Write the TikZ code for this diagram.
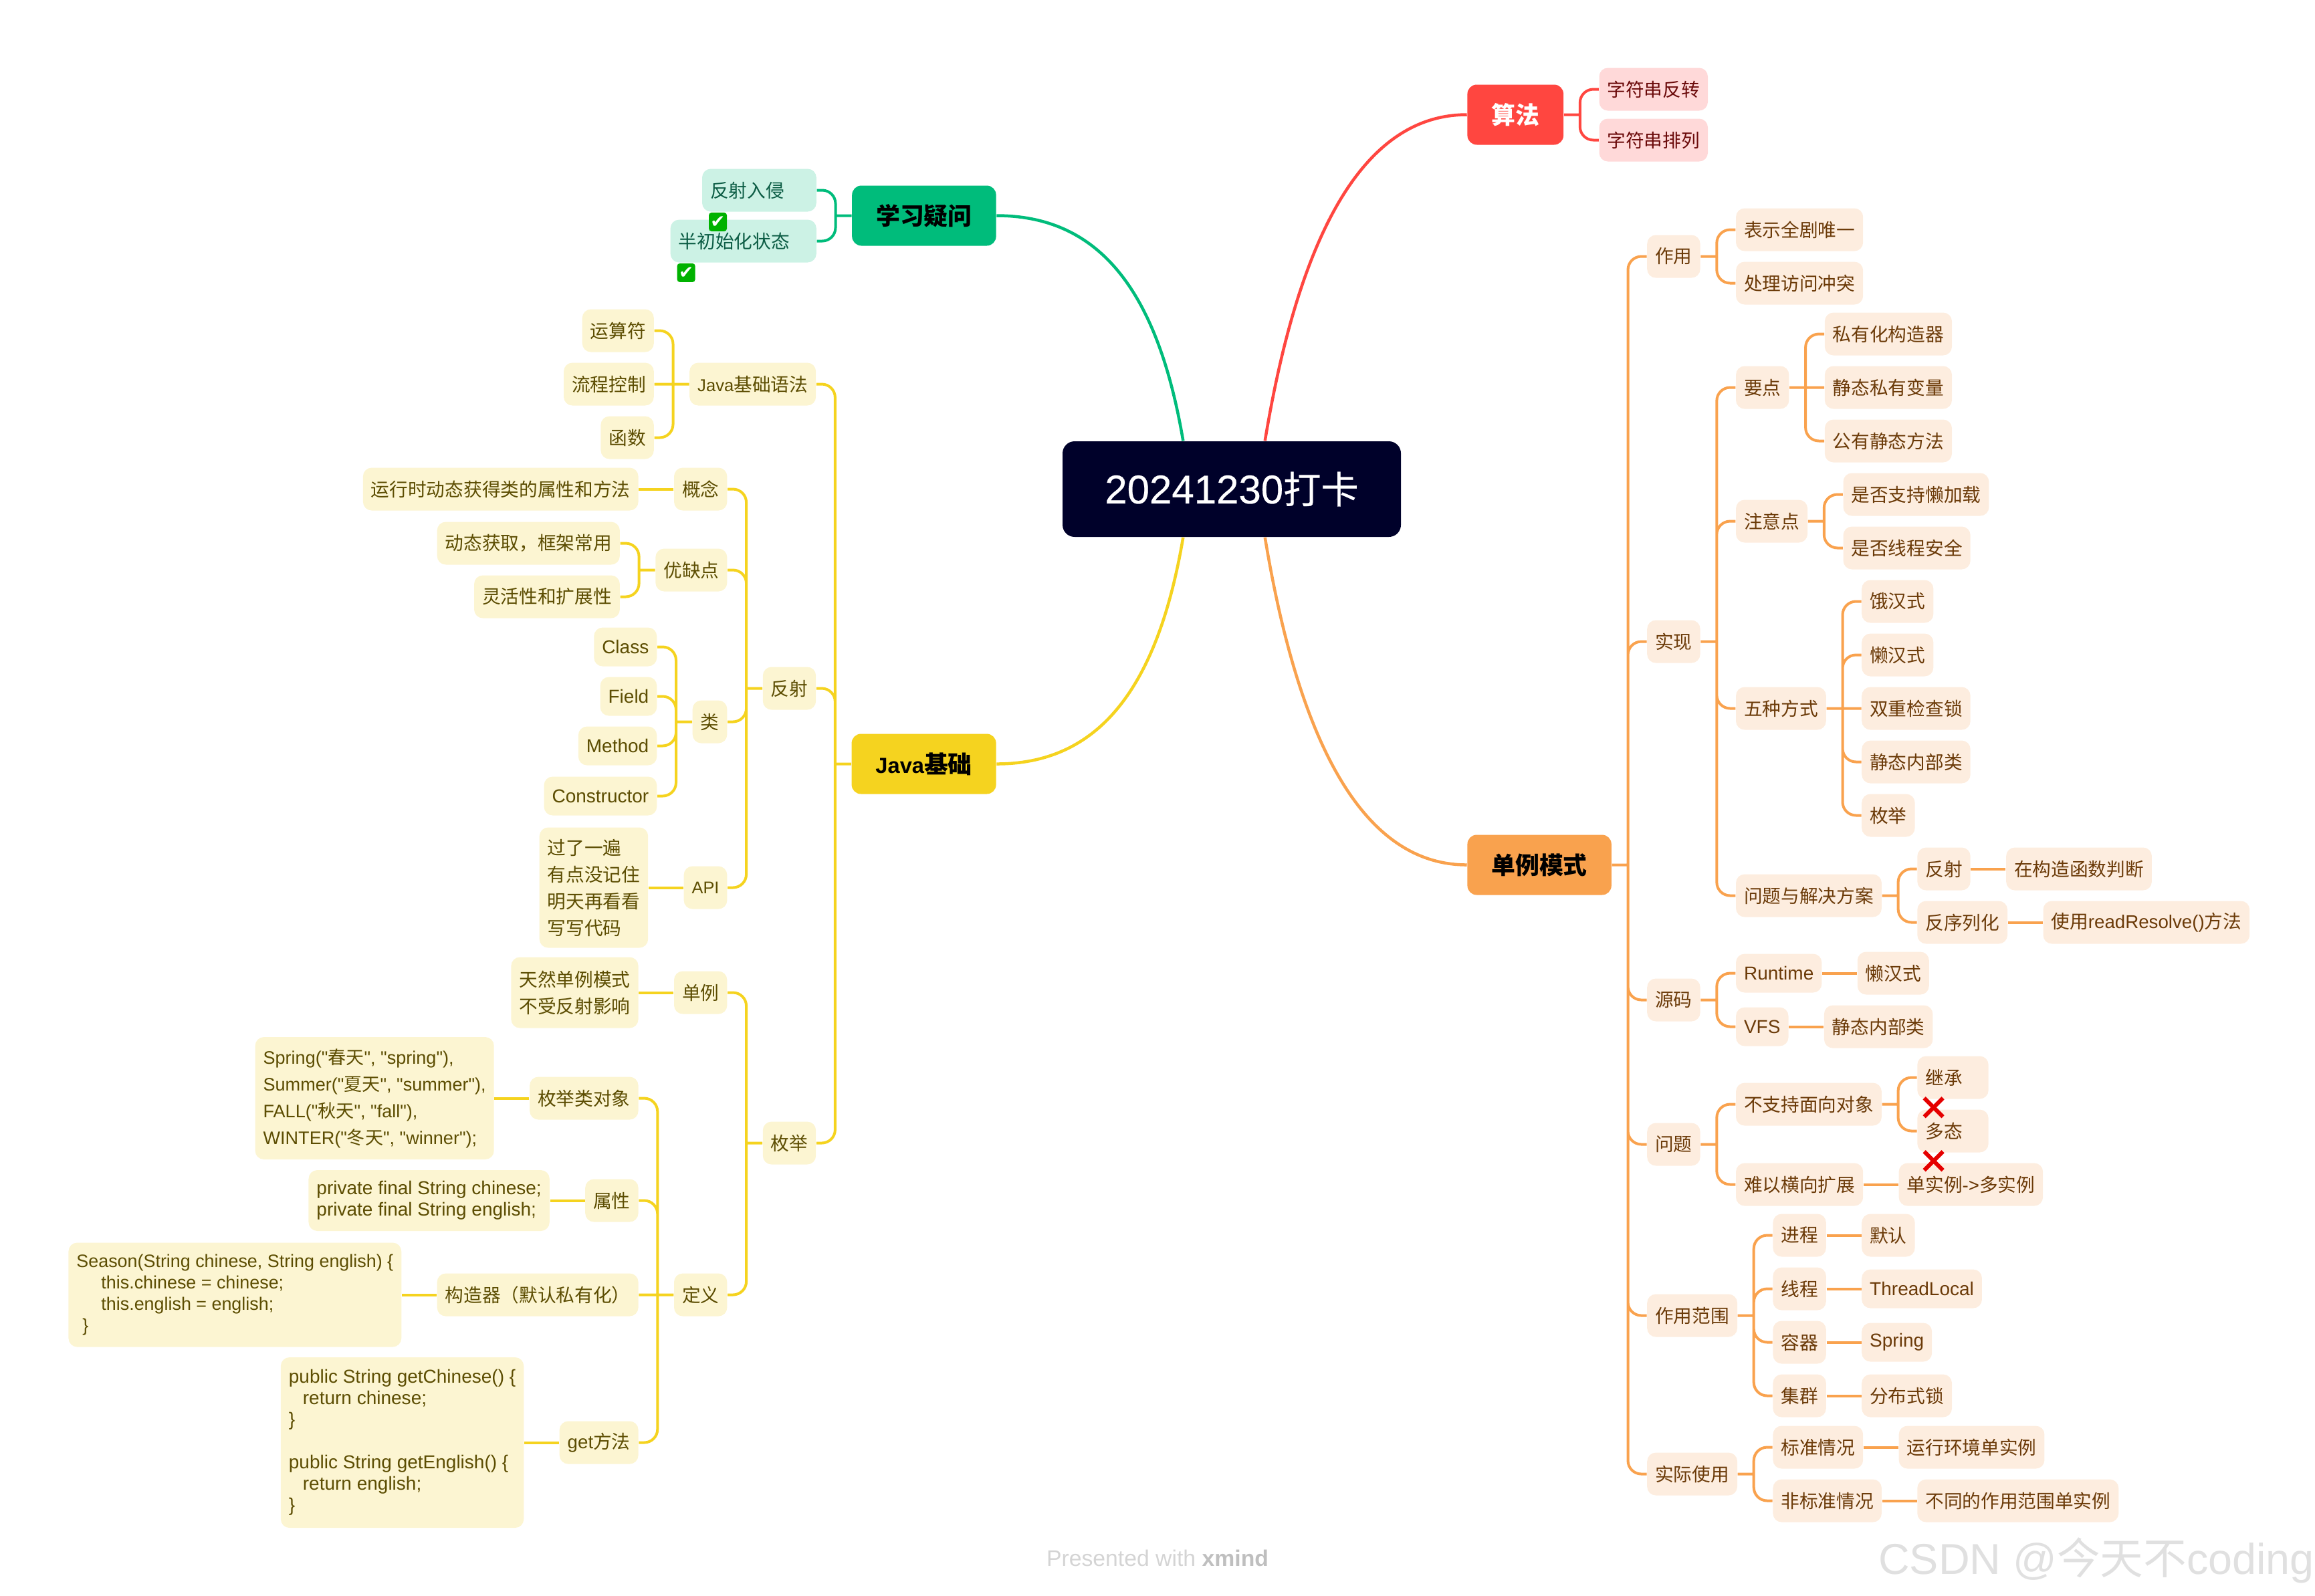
\documentclass[tikz,border=0pt]{standalone}
\usepackage{fontspec}
\setmainfont{Noto Sans CJK SC}
\newfontfamily\lat{Liberation Sans}
\newfontfamily\zh{Noto Sans CJK SC}
\newfontfamily\symb{DejaVu Sans}
\newfontfamily\rootzh[FakeBold=0.4]{Noto Sans CJK SC}
\newfontfamily\rootlat[FakeBold=0.4]{Liberation Sans}
\usepackage{xcolor}
\usetikzlibrary{positioning, shapes.misc}
\definecolor{rootfill}{HTML}{00012A}
\definecolor{greenline}{HTML}{00BC7B}
\definecolor{greenfill}{HTML}{CCF2E5}
\definecolor{greentext}{HTML}{0B5C44}
\definecolor{yellowline}{HTML}{F5D31F}
\definecolor{yellowfill}{HTML}{FCF5D2}
\definecolor{yellowtext}{HTML}{5C4D02}
\definecolor{redline}{HTML}{FF4640}
\definecolor{redfill}{HTML}{FFD9D9}
\definecolor{redtext}{HTML}{6B0A0A}
\definecolor{orangeline}{HTML}{F9A24E}
\definecolor{orangefill}{HTML}{FDEDDF}
\definecolor{orangetext}{HTML}{6B3A08}

\begin{document}
\begin{tikzpicture}[
  node distance=0.6cm and 0.52cm,
  rootbox/.style={fill=rootfill, text=white, rounded corners=0.18cm, minimum width=5.06cm,
                  minimum height=1.43cm, inner sep=0pt, font=\rootzh\fontsize{16pt}{18pt}\selectfont},
  mainbox/.style={rounded corners=0.14cm, minimum height=0.9cm, inner xsep=0.36cm, inner ysep=0pt,
                  font=\bfseries\fontsize{10.2pt}{12pt}\selectfont},
  kid/.style={rounded corners=0.13cm, minimum height=0.64cm, inner xsep=0.12cm, inner ysep=0pt,
              align=left, font=\fontsize{7.88pt}{9.1pt}\selectfont},
  kidwide/.style={kid, font=\fontsize{7.88pt}{11.38pt}\selectfont},
  kidlat/.style={kid, minimum height=0.58cm, font=\lat\fontsize{7.97pt}{9.1pt}\selectfont},
  kidcode/.style={kid, font=\lat\fontsize{7.97pt}{9.1pt}\selectfont},
  green/.style={fill=greenfill, text=greentext},
  yellow/.style={fill=yellowfill, text=yellowtext},
  red/.style={fill=redfill, text=redtext},
  orange/.style={fill=orangefill, text=orangetext},
  greenwire/.style={draw=greenline, line width=0.04cm, rounded corners=0.2cm},
  yellowwire/.style={draw=yellowline, line width=0.04cm, rounded corners=0.2cm},
  redwire/.style={draw=redline, line width=0.04cm, rounded corners=0.2cm},
  orangewire/.style={draw=orangeline, line width=0.04cm, rounded corners=0.2cm},
  okbox/.style={fill=black!0!green!70!black, text=white, rounded corners=0.04cm, minimum width=0.27cm,
                minimum height=0.28cm, inner sep=0pt, font=\symb\fontsize{7.5pt}{8pt}\selectfont},
  nobox/.style={cross out, draw=red!90!black, line width=0.06cm, minimum size=0.22cm, inner sep=0pt}
]

\useasboundingbox (0,0) rectangle (34.62,-23.86);

\node[rootbox] (root) at (18.42,-7.315) {{\rootlat\fontsize{17.07pt}{18pt}\selectfont 20241230}打卡};

\node[mainbox, fill=redline, text=white, right=0.98cm of root, yshift=5.6cm] (algo) {算法};
\node[mainbox, fill=orangeline, text=black, right=0.98cm of root, yshift=-5.62cm] (single) {单例模式};
\node[mainbox, fill=greenline, text=black, left=0.98cm of root, yshift=4.09cm] (doubt) {学习疑问};
\node[mainbox, fill=yellowline, text=black, left=0.98cm of root, yshift=-4.11cm, minimum width=2.16cm, inner xsep=0.2cm] (java)
  {{\lat\fontsize{9.3pt}{12pt}\selectfont Java}基础};

\node[kid, red, right=of algo, yshift=0.38cm] (reverse) {字符串反转};
\node[kid, red, right=of algo, yshift=-0.38cm] (permute) {字符串排列};

\node[kid, green, left=of doubt, yshift=0.38cm] (invade) {反射入侵\hspace*{0.36cm}};
\node[kid, green, left=of doubt, yshift=-0.38cm] (halfinit) {半初始化状态\hspace*{0.28cm}};
\node[okbox, below right=0cm and 0.1cm of invade.south west] (okinvade) {✔};
\node[okbox, below right=0cm and 0.1cm of halfinit.south west] (okhalf) {✔};

\node[kid, orange, right=of single, yshift=9.1cm] (role) {作用};
\node[kid, orange, right=of single, yshift=3.34cm] (impl) {实现};
\node[kid, orange, right=of single, yshift=-2.02cm] (source) {源码};
\node[kid, orange, right=of single, yshift=-4.18cm] (issue) {问题};
\node[kid, orange, right=of single, yshift=-6.74cm] (scope) {作用范围};
\node[kid, orange, right=of single, yshift=-9.11cm] (usage) {实际使用};

\node[kid, orange, right=of role, yshift=0.4cm] (unique) {表示全剧唯一};
\node[kid, orange, right=of role, yshift=-0.4cm] (conflict) {处理访问冲突};

\node[kid, orange, right=of impl, yshift=3.8cm] (points) {要点};
\node[kid, orange, right=of impl, yshift=1.8cm] (notes) {注意点};
\node[kid, orange, right=of impl, yshift=-1cm] (five) {五种方式};
\node[kid, orange, right=of impl, yshift=-3.8cm] (fixes) {问题与解决方案};

\node[kid, orange, right=of points, yshift=0.8cm] (ctor) {私有化构造器};
\node[kid, orange, right=of points] (field) {静态私有变量};
\node[kid, orange, right=of points, yshift=-0.8cm] (getter) {公有静态方法};

\node[kid, orange, right=of notes, yshift=0.4cm] (lazyload) {是否支持懒加载};
\node[kid, orange, right=of notes, yshift=-0.4cm] (threadsafe) {是否线程安全};

\node[kid, orange, right=of five, yshift=1.6cm] (eager) {饿汉式};
\node[kid, orange, right=of five, yshift=0.8cm] (lazy) {懒汉式};
\node[kid, orange, right=of five] (dcl) {双重检查锁};
\node[kid, orange, right=of five, yshift=-0.8cm] (inner) {静态内部类};
\node[kid, orange, right=of five, yshift=-1.6cm] (enumway) {枚举};

\node[kid, orange, right=of fixes, yshift=0.4cm] (reflect) {反射};
\node[kid, orange, right=of fixes, yshift=-0.4cm] (serial) {反序列化};
\node[kid, orange, right=of reflect] (ctorcheck) {在构造函数判断};
\node[kid, orange, right=of serial] (resolve) {使用{\lat readResolve()}方法};

\node[kidlat, orange, right=of source, yshift=0.4cm] (runtime) {Runtime};
\node[kidlat, orange, right=of source, yshift=-0.4cm] (vfs) {VFS};
\node[kid, orange, right=of runtime] (rtlazy) {懒汉式};
\node[kid, orange, right=of vfs] (vfsinner) {静态内部类};

\node[kid, orange, right=of issue, yshift=0.6cm] (nooop) {不支持面向对象};
\node[kid, orange, right=of issue, yshift=-0.6cm] (noscale) {难以横向扩展};
\node[kid, orange, right=of nooop, yshift=0.4cm] (inherit) {继承\hspace*{0.27cm}};
\node[kid, orange, right=of nooop, yshift=-0.4cm] (poly) {多态\hspace*{0.27cm}};
\node[kid, orange, right=of noscale] (multi) {单实例{\lat ->}多实例};
\node[nobox, below right=-0.02cm and 0.11cm of inherit.south west] (noinherit) {};
\node[nobox, below right=-0.02cm and 0.11cm of poly.south west] (nopoly) {};

\node[kid, orange, right=of scope, yshift=1.2cm] (process) {进程};
\node[kid, orange, right=of scope, yshift=0.4cm] (thread) {线程};
\node[kid, orange, right=of scope, yshift=-0.4cm] (container) {容器};
\node[kid, orange, right=of scope, yshift=-1.2cm] (cluster) {集群};
\node[kid, orange, right=of process] (default) {默认};
\node[kidlat, orange, right=of thread] (threadlocal) {ThreadLocal};
\node[kidlat, orange, right=of container] (spring) {Spring};
\node[kid, orange, right=of cluster] (dlock) {分布式锁};

\node[kid, orange, right=of usage, yshift=0.4cm] (normal) {标准情况};
\node[kid, orange, right=of usage, yshift=-0.4cm] (abnormal) {非标准情况};
\node[kid, orange, right=of normal] (envone) {运行环境单实例};
\node[kid, orange, right=of abnormal] (scopeone) {不同的作用范围单实例};

\node[kid, yellow, left=of java, yshift=5.68cm] (syntax) {{\lat\fontsize{7.3pt}{9pt}\selectfont Java}基础语法};
\node[kid, yellow, left=of java, yshift=1.13cm] (refl) {反射};
\node[kid, yellow, left=of java, yshift=-5.67cm] (enumtype) {枚举};

\node[kid, yellow, left=of syntax, yshift=0.8cm] (operator) {运算符};
\node[kid, yellow, left=of syntax] (flow) {流程控制};
\node[kid, yellow, left=of syntax, yshift=-0.8cm] (func) {函数};

\node[kid, yellow, left=of refl, yshift=2.98cm] (concept) {概念};
\node[kid, yellow, left=of refl, yshift=1.77cm] (proscons) {优缺点};
\node[kid, yellow, left=of refl, yshift=-0.5cm] (klass) {类};
\node[kid, yellow, left=of refl, yshift=-2.98cm] (api) {\lat\fontsize{7.2pt}{9pt}\selectfont API};

\node[kid, yellow, left=of concept] (meaning) {运行时动态获得类的属性和方法};
\node[kid, yellow, left=of proscons, yshift=0.4cm] (dynamic) {动态获取，框架常用};
\node[kid, yellow, left=of proscons, yshift=-0.4cm] (flexible) {灵活性和扩展性};

\node[kidlat, yellow, left=of klass, yshift=1.12cm] (kclass) {Class};
\node[kidlat, yellow, left=of klass, yshift=0.38cm] (kfield) {Field};
\node[kidlat, yellow, left=of klass, yshift=-0.36cm] (kmethod) {Method};
\node[kidlat, yellow, left=of klass, yshift=-1.11cm] (kctor) {Constructor};

\node[kidwide, yellow, left=of api, minimum height=1.8cm] (apinote) {过了一遍\\有点没记住\\明天再看看\\写写代码};

\node[kid, yellow, left=of enumtype, yshift=2.25cm] (esingle) {单例};
\node[kid, yellow, left=of enumtype, yshift=-2.27cm] (edefine) {定义};
\node[kidwide, yellow, left=of esingle, minimum height=1.06cm] (esnote) {天然单例模式\\不受反射影响};

\node[kid, yellow, left=of edefine, yshift=2.94cm] (eobjects) {枚举类对象};
\node[kid, yellow, left=of edefine, yshift=1.41cm] (eattr) {属性};
\node[kid, yellow, left=of edefine] (ector) {构造器（默认私有化）};
\node[kid, yellow, left=of edefine, yshift=-2.21cm] (eget) {{\lat get}方法};

\node[kidcode, yellow, font=\lat\fontsize{7.7pt}{11.38pt}\selectfont, left=of eobjects, minimum height=1.83cm] (eobjcode)
  {Spring("{\zh 春天}", "spring"),\\Summer("{\zh 夏天}", "summer"),\\FALL("{\zh 秋天}", "fall"),\\WINTER("{\zh 冬天}", "winner");};
\node[kidcode, yellow, left=of eattr, minimum height=0.91cm] (eattrcode)
  {private final String chinese;\\private final String english;};
\node[kidcode, yellow, font=\lat\fontsize{7.65pt}{9.1pt}\selectfont, left=of ector, minimum height=1.56cm] (ectorcode)
  {Season(String chinese, String english) \{\\\hspace*{0.37cm}this.chinese = chinese;\\\hspace*{0.37cm}this.english = english;\\\hspace*{0.09cm}\}};
\node[kidcode, yellow, left=of eget, minimum height=2.55cm] (egetcode)
  {public String getChinese() \{\\\hspace*{0.21cm}return chinese;\\\}\\\mbox{}\\public String getEnglish() \{\\\hspace*{0.21cm}return english;\\\}};

\node[text=black!17, anchor=center, font=\lat\fontsize{9.6pt}{11pt}\selectfont] (present) at (17.31,-23.3)
  {Presented with {\bfseries\color{black!25}xmind}};
\node[text=black!12, anchor=east, font=\lat\fontsize{18.4pt}{20pt}\selectfont] (csdn) at (34.73,-23.34)
  {CSDN @{\zh 今天不}coding};

\draw[draw=redline, line width=0.045cm] ([xshift=-2.04cm]root.north east) .. controls +(0.53,3.2) and +(-1.5,0) .. (algo.west);
\draw[draw=orangeline, line width=0.045cm] ([xshift=-2.04cm]root.south east) .. controls +(0.53,-3.2) and +(-1.5,0) .. (single.west);
\draw[draw=greenline, line width=0.045cm] ([xshift=1.81cm]root.north west) .. controls +(-0.39,2.3) and +(1.5,0) .. (doubt.east);
\draw[draw=yellowline, line width=0.045cm] ([xshift=1.81cm]root.south west) .. controls +(-0.39,-2.3) and +(1.5,0) .. (java.east);

\draw[redwire] (algo.east) -- ++(0.24,0) coordinate (ta) (ta) |- (reverse.west) (ta) |- (permute.west);
\draw[greenwire] (doubt.west) -- ++(-0.24,0) coordinate (td) (td) |- (invade.east) (td) |- (halfinit.east);

\draw[orangewire] (single.east) -- ++(0.24,0) coordinate (ts) (ts) |- (role.west) (ts) |- (impl.west) (ts) |- (source.west) (ts) |- (issue.west) (ts) |- (scope.west) (ts) |- (usage.west);
\draw[orangewire] (role.east) -- ++(0.24,0) coordinate (tr) (tr) |- (unique.west) (tr) |- (conflict.west);
\draw[orangewire] (impl.east) -- ++(0.24,0) coordinate (ti) (ti) |- (points.west) (ti) |- (notes.west) (ti) |- (five.west) (ti) |- (fixes.west);
\draw[orangewire] (points.east) -- ++(0.24,0) coordinate (tp) (tp) |- (ctor.west) (tp) -- (field.west) (tp) |- (getter.west);
\draw[orangewire] (notes.east) -- ++(0.24,0) coordinate (tn) (tn) |- (lazyload.west) (tn) |- (threadsafe.west);
\draw[orangewire] (five.east) -- ++(0.24,0) coordinate (tf) (tf) |- (eager.west) (tf) |- (lazy.west) (tf) -- (dcl.west) (tf) |- (inner.west) (tf) |- (enumway.west);
\draw[orangewire] (fixes.east) -- ++(0.24,0) coordinate (tx) (tx) |- (reflect.west) (tx) |- (serial.west);
\draw[orangewire] (reflect.east) -- (ctorcheck.west);
\draw[orangewire] (serial.east) -- (resolve.west);
\draw[orangewire] (source.east) -- ++(0.24,0) coordinate (to) (to) |- (runtime.west) (to) |- (vfs.west);
\draw[orangewire] (runtime.east) -- (rtlazy.west);
\draw[orangewire] (vfs.east) -- (vfsinner.west);
\draw[orangewire] (issue.east) -- ++(0.24,0) coordinate (tq) (tq) |- (nooop.west) (tq) |- (noscale.west);
\draw[orangewire] (nooop.east) -- ++(0.24,0) coordinate (tb) (tb) |- (inherit.west) (tb) |- (poly.west);
\draw[orangewire] (noscale.east) -- (multi.west);
\draw[orangewire] (scope.east) -- ++(0.24,0) coordinate (tc) (tc) |- (process.west) (tc) |- (thread.west) (tc) |- (container.west) (tc) |- (cluster.west);
\draw[orangewire] (process.east) -- (default.west);
\draw[orangewire] (thread.east) -- (threadlocal.west);
\draw[orangewire] (container.east) -- (spring.west);
\draw[orangewire] (cluster.east) -- (dlock.west);
\draw[orangewire] (usage.east) -- ++(0.24,0) coordinate (tu) (tu) |- (normal.west) (tu) |- (abnormal.west);
\draw[orangewire] (normal.east) -- (envone.west);
\draw[orangewire] (abnormal.east) -- (scopeone.west);

\draw[yellowwire] (java.west) -- ++(-0.24,0) coordinate (tj) (tj) |- (syntax.east) (tj) |- (refl.east) (tj) |- (enumtype.east);
\draw[yellowwire] (syntax.west) -- ++(-0.24,0) coordinate (ty) (ty) |- (operator.east) (ty) -- (flow.east) (ty) |- (func.east);
\draw[yellowwire] (refl.west) -- ++(-0.24,0) coordinate (tl) (tl) |- (concept.east) (tl) |- (proscons.east) (tl) |- (klass.east) (tl) |- (api.east);
\draw[yellowwire] (concept.west) -- (meaning.east);
\draw[yellowwire] (proscons.west) -- ++(-0.24,0) coordinate (tv) (tv) |- (dynamic.east) (tv) |- (flexible.east);
\draw[yellowwire] (klass.west) -- ++(-0.24,0) coordinate (tk) (tk) |- (kclass.east) (tk) |- (kfield.east) (tk) |- (kmethod.east) (tk) |- (kctor.east);
\draw[yellowwire] (api.west) -- (apinote.east);
\draw[yellowwire] (enumtype.west) -- ++(-0.24,0) coordinate (te) (te) |- (esingle.east) (te) |- (edefine.east);
\draw[yellowwire] (esingle.west) -- (esnote.east);
\draw[yellowwire] (edefine.west) -- ++(-0.24,0) coordinate (tg) (tg) |- (eobjects.east) (tg) |- (eattr.east) (tg) -- (ector.east) (tg) |- (eget.east);
\draw[yellowwire] (eobjects.west) -- (eobjcode.east);
\draw[yellowwire] (eattr.west) -- (eattrcode.east);
\draw[yellowwire] (ector.west) -- (ectorcode.east);
\draw[yellowwire] (eget.west) -- (egetcode.east);

\end{tikzpicture}
\end{document}
